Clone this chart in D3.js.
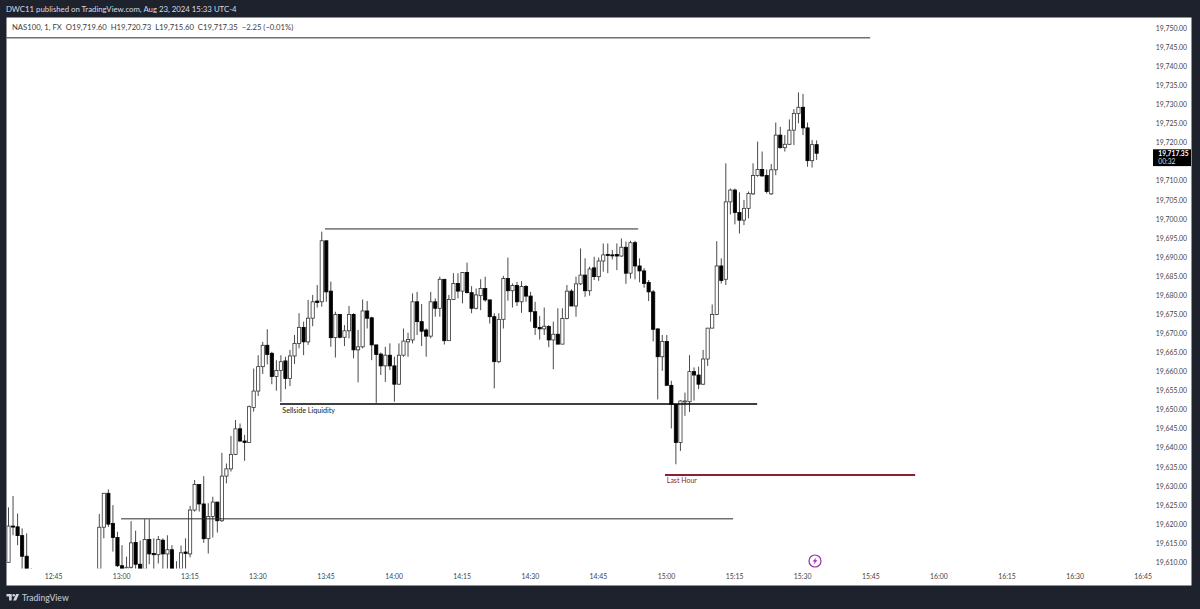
<!DOCTYPE html>
<html>
<head>
<meta charset="utf-8">
<script src="https://cdn.jsdelivr.net/npm/d3@7/dist/d3.min.js"></script>
<style>
html,body{margin:0;padding:0;background:#1e222d;overflow:hidden}
svg{display:block}
text{font-family:"Lato","Noto Sans",sans-serif}
</style>
</head>
<body>
<svg id="c" width="1200" height="609"></svg>
<script>
const firstBar = 755; // minutes after midnight of the first bar, 12:35
const opens = [19610.1,19619.6,19619.4,19617.1,19611.7,19607.0,
null,null,null,null,null,null,null,null,null,null,null,null,null,null,
19604.0,19619.3,19628.2,19620.3,19616.6,
19609.2,19607.5,19608.8,19615.3,19609.6,19606.0,19616.1,19612.4,19612.1,19615.9,
19612.3,19613.4,19604.0,19607.0,19612.8,19612.3,19623.8,19630.5,19625.4,19616.3,
19622.1,19625.9,19621.0,19632.7,19634.6,19638.4,19645.1,19641.9,19641.5,19650.7,
19655.0,19661.4,19667.0,19664.9,19658.8,19660.4,19662.9,19658.3,19664.2,19667.5,
19671.7,19667.9,19674.1,19678.6,19678.4,19694.4,19681.2,19669.0,19675.1,19669.1,
19670.8,19675.1,19665.8,19666.6,19676.0,19674.2,19667.1,19664.7,19661.6,19664.4,
19661.6,19656.8,19664.4,19667.9,19668.4,19678.4,19673.2,19671.0,19669.4,19678.4,
19676.7,19684.3,19668.2,19679.0,19683.2,19681.2,19686.1,19680.8,19676.7,19680.0,
19681.9,19678.9,19674.5,19662.7,19673.8,19684.5,19681.3,19682.7,19678.4,19682.4,
19679.9,19675.8,19671.7,19671.3,19671.9,19668.4,19669.9,19667.3,19674.0,19681.2,
19677.3,19683.1,19685.4,19681.3,19687.3,19685.0,19689.1,19690.8,19690.7,19690.8,
19690.4,19692.7,19685.9,19693.9,19687.8,19686.5,19683.5,19681.0,19671.3,19664.0,
19668.0,19656.5,19651.5,19641.5,19652.2,19652.2,19660.1,19659.2,19656.8,19663.4,
19671.5,19675.1,19687.8,19684.3,19704.6,19707.7,19701.8,19699.8,19702.9,19706.7,
19711.5,19713.1,19711.5,19706.7,19713.0,19722.1,19718.8,19719.7,19723.4,19727.8,
19729.4,19724.0,19715.4,19719.60];
const highs = [19624.5,19627.5,19622.9,19619.0,19617.7,19608.6,
null,null,null,null,null,null,null,null,null,null,null,null,null,null,
19622.8,19628.2,19629.2,19625.1,19618.1,
19614.6,19611.6,19620.9,19618.4,19615.8,19621.4,19621.4,19616.4,19617.0,19616.4,
19617.2,19614.6,19610.4,19614.5,19616.4,19624.9,19631.7,19630.5,19632.7,19625.6,
19627.3,19625.9,19638.8,19636.0,19643.2,19647.4,19646.5,19643.5,19651.2,19660.9,
19664.4,19667.9,19671.2,19665.3,19663.1,19664.4,19664.0,19665.8,19669.7,19675.4,
19673.2,19678.9,19680.2,19682.8,19696.8,19694.4,19683.7,19675.8,19675.1,19672.3,
19677.3,19675.4,19671.0,19679.0,19678.6,19674.5,19667.1,19665.1,19666.6,19667.5,
19664.0,19667.5,19671.4,19670.3,19680.6,19681.0,19677.8,19671.4,19681.0,19679.3,
19685.0,19684.3,19680.2,19685.9,19685.9,19686.1,19688.7,19682.5,19681.9,19684.3,
19685.0,19678.9,19675.4,19675.4,19685.2,19690.0,19683.2,19683.6,19683.8,19682.8,
19681.0,19678.4,19674.7,19676.9,19672.3,19673.2,19676.7,19676.7,19682.8,19681.7,
19685.0,19692.4,19689.8,19687.6,19690.2,19690.0,19693.7,19693.7,19692.0,19693.7,
19695.0,19694.2,19694.4,19694.4,19689.8,19687.2,19684.1,19681.5,19671.3,19669.7,
19669.7,19657.7,19651.5,19652.6,19654.6,19664.4,19661.2,19661.4,19665.8,19671.5,
19677.7,19694.3,19689.8,19714.7,19708.1,19708.1,19707.1,19705.1,19707.3,19714.7,
19720.4,19717.8,19713.1,19714.5,19725.4,19724.3,19722.1,19726.2,19728.9,19733.3,
19732.9,19725.4,19720.8,19720.73];
const lows = [19610.1,19617.2,19614.6,19606.0,19604.0,19603.0,
null,null,null,null,null,null,null,null,null,null,null,null,null,null,
19602.0,19616.4,19619.4,19612.9,19608.9,
19606.0,19606.0,19607.0,19606.0,19604.0,19604.0,19609.6,19607.0,19609.8,19607.0,
19607.0,19604.0,19603.0,19605.0,19607.0,19611.4,19623.4,19623.4,19615.2,19612.4,
19616.6,19617.9,19620.7,19630.8,19633.9,19638.2,19641.7,19636.7,19641.5,19649.6,
19653.7,19659.5,19662.0,19656.8,19655.1,19652.2,19655.5,19656.3,19662.1,19666.2,
19664.4,19667.1,19672.0,19676.9,19677.1,19678.4,19666.6,19663.8,19668.8,19666.8,
19668.8,19663.6,19657.3,19666.2,19671.4,19663.1,19651.9,19659.2,19657.4,19660.5,
19652.2,19656.6,19664.0,19664.0,19667.5,19669.7,19666.8,19664.0,19668.8,19674.5,
19674.5,19667.2,19668.2,19678.9,19679.3,19678.0,19680.6,19675.4,19676.4,19676.2,
19678.4,19672.7,19655.7,19662.3,19671.4,19678.7,19676.9,19677.3,19675.5,19678.4,
19673.2,19669.7,19668.5,19669.7,19666.5,19660.7,19667.3,19667.3,19673.8,19677.3,
19674.5,19682.8,19679.7,19680.0,19684.1,19683.9,19686.3,19685.9,19689.5,19686.7,
19690.2,19683.1,19684.5,19684.3,19683.5,19682.1,19678.6,19668.0,19652.8,19660.3,
19656.5,19645.2,19635.8,19639.3,19648.5,19649.5,19652.5,19655.5,19656.6,19661.6,
19671.5,19674.9,19683.2,19682.8,19701.3,19698.7,19696.3,19698.5,19700.3,19706.4,
19711.2,19711.2,19706.8,19706.4,19711.6,19718.6,19717.8,19719.5,19719.5,19725.2,
19722.1,19713.8,19713.6,19715.60];
const closes = [19619.6,19619.4,19617.1,19611.7,19606.0,19605.0,
null,null,null,null,null,null,null,null,null,null,null,null,null,null,
19619.3,19628.2,19620.1,19616.6,19609.2,
19607.5,19608.8,19615.2,19609.6,19606.0,19616.1,19612.3,19612.1,19616.1,19612.3,
19613.4,19606.0,19606.5,19612.6,19612.4,19623.8,19630.5,19625.4,19616.3,19622.1,
19625.9,19621.0,19632.7,19634.6,19638.4,19645.1,19641.9,19641.5,19650.9,19655.0,
19661.4,19667.0,19664.6,19658.8,19660.4,19662.7,19658.3,19664.2,19667.5,19671.7,
19667.9,19674.1,19678.4,19678.2,19694.4,19681.0,19669.0,19675.1,19669.1,19670.8,
19675.1,19665.8,19666.6,19676.0,19674.1,19667.1,19664.6,19661.6,19664.4,19661.6,
19656.8,19664.4,19668.1,19668.5,19678.4,19673.2,19670.7,19669.4,19678.4,19676.7,
19684.3,19668.2,19679.0,19683.2,19681.2,19686.1,19680.8,19676.7,19680.2,19681.9,
19678.9,19674.5,19662.7,19673.8,19684.5,19681.3,19682.7,19678.4,19682.4,19679.9,
19675.8,19671.7,19671.3,19672.0,19668.4,19669.9,19667.3,19674.0,19681.2,19677.3,
19683.1,19685.4,19681.3,19687.0,19685.0,19689.1,19690.7,19690.6,19690.5,19690.4,
19692.7,19685.9,19693.9,19687.8,19686.5,19683.2,19681.0,19671.2,19664.0,19668.0,
19656.5,19651.5,19641.5,19652.4,19652.4,19660.1,19659.2,19656.8,19663.4,19671.5,
19675.1,19687.8,19684.0,19704.6,19707.7,19701.8,19699.8,19702.9,19706.8,19711.5,
19713.1,19711.4,19707.3,19713.0,19722.1,19718.8,19719.7,19723.4,19727.8,19729.4,
19724.0,19715.4,19719.6,19717.35];

const priceTicks = [19750,19745,19740,19735,19730,19725,19720,19710,19705,19700,19695,19690,19685,19680,19675,19670,19665,19660,19655,19650,19645,19640,19635,19630,19625,19620,19615,19610];
const timeTicks = [765,780,795,810,825,840,855,870,885,900,915,930,945,960,975,990,1005];
const timeLabels = ["12:45","13:00","13:15","13:30","13:45","14:00","14:15","14:30","14:45","15:00","15:15","15:30","15:45","16:00","16:15","16:30","16:45"];

// drawn horizontal levels: price, start minute, end minute
const levelPrices = [19747.6,19697.5,19651.6,19633.0,19621.5];
const levelStarts = [750,824.7,814.8,899.6,779.8];
const levelEnds   = [944.8,893.7,919.9,954.7,914.6];
const levelColors = ["#2a2a2a","#2a2a2a","#000000","#8e1f33","#2a2a2a"];
const levelWidths = [1,1,1.5,2,1];

const title = "DWC11 published on TradingView.com, Aug 23, 2024 15:33 UTC-4";
const legend = "NAS100, 1, FX  O19,719.60  H19,720.73  L19,715.60  C19,717.35  \u22122.25 (\u22120.01%)";
const lastPrice = "19,717.35";
const countdown = "00:32";

const svg = d3.select("#c");
const x = d3.scaleLinear().domain([780,1020]).range([122,1211.6]);
const y = d3.scaleLinear().domain([19750,19610]).range([28.7,562.7]);

svg.append("rect").attr("x",0).attr("y",0).attr("width",1200).attr("height",609).attr("fill","#1e222d");
svg.append("rect").attr("x",6.5).attr("y",17.5).attr("width",1185).attr("height",568).attr("fill","#ffffff");

svg.append("defs").append("clipPath").attr("id","plot")
  .append("rect").attr("x",6.5).attr("y",18).attr("width",1145).attr("height",550.5);

const bars = d3.range(opens.length).filter(i => opens[i] !== null).map(i => ({
  t:firstBar+i, o:opens[i], h:highs[i], l:lows[i], c:closes[i]
}));

const g = svg.append("g").attr("clip-path","url(#plot)");
g.selectAll("line.wick").data(bars).join("line").attr("class","wick")
  .attr("x1",d=>x(d.t)).attr("x2",d=>x(d.t))
  .attr("y1",d=>y(d.h)).attr("y2",d=>y(d.l))
  .attr("stroke","#4a4a4a").attr("stroke-width",1);
g.selectAll("rect.body").data(bars).join("rect").attr("class","body")
  .attr("x",d=>x(d.t)-1.6).attr("width",3.2)
  .attr("y",d=>y(Math.max(d.o,d.c)))
  .attr("height",d=>Math.max(1,Math.abs(y(d.o)-y(d.c))))
  .attr("fill",d=>d.c>=d.o?"#ffffff":"#000000")
  .attr("stroke",d=>d.c>=d.o?"#333333":"#000000").attr("stroke-width",0.8);

// levels
svg.append("g").selectAll("line").data(levelPrices).join("line")
  .attr("x1",(d,i)=>Math.max(6.5,x(levelStarts[i])))
  .attr("x2",(d,i)=>x(levelEnds[i]))
  .attr("y1",d=>y(d)).attr("y2",d=>y(d))
  .attr("stroke",(d,i)=>levelColors[i]).attr("stroke-width",(d,i)=>levelWidths[i]);

svg.append("text").attr("x",x(815.3)).attr("y",y(19651.6)+8.5)
  .attr("font-size",7.2).attr("fill","#222").text("Sellside Liquidity");
svg.append("text").attr("x",x(900)).attr("y",y(19633.0)+8.5)
  .attr("font-size",7).attr("fill","#8e1f33").text("Last Hour");

// axes
const yAxis = d3.axisRight(y).tickValues(priceTicks).tickSize(0).tickPadding(0)
  .tickFormat(d=>d3.format(",.2f")(d));
const yg = svg.append("g").attr("transform","translate(1187,-0.5)").call(yAxis);
yg.select(".domain").remove();
yg.selectAll("text").attr("text-anchor","end").attr("font-size",6.9).attr("fill","#444");

const xAxis = d3.axisBottom(x).tickValues(timeTicks).tickSize(0).tickPadding(0)
  .tickFormat((d,i)=>timeLabels[i]);
const xg = svg.append("g").attr("transform","translate(-0.8,574)").call(xAxis);
xg.select(".domain").remove();
xg.selectAll("text").attr("font-size",6.9).attr("fill","#444");

// last price tag
svg.append("rect").attr("x",1153).attr("y",149.3).attr("width",38).attr("height",16.8).attr("fill","#000");
svg.append("text").attr("x",1158.3).attr("y",156.2).attr("font-size",6.7).attr("font-weight",700).attr("fill","#fff").text(lastPrice);
svg.append("text").attr("x",1158.3).attr("y",164).attr("font-size",6.7).attr("fill","#ddd").text(countdown);

// header texts
svg.append("text").attr("x",6).attr("y",11.5).attr("font-size",7.8).attr("fill","#d8dae0").text(title);
svg.append("text").attr("x",12).attr("y",30).attr("font-size",7.7).attr("fill","#3c3c3c").attr("xml:space","preserve").text(legend);

// lightning badge
const b = svg.append("g").attr("transform","translate(815,561)");
b.append("circle").attr("r",6).attr("fill","#fff").attr("stroke","#9c27b0").attr("stroke-width",1.2);
b.append("path").attr("d","M1.6,-3.8 L-2.4,0.6 L-0.2,0.6 L-1.6,3.8 L2.4,-0.8 L0.2,-0.8 Z").attr("fill","#9c27b0");

// footer logo
const l = svg.append("g").attr("transform","translate(6.5,594)").attr("fill","#d1d4dc");
l.append("path").attr("d","M0,0 H5.2 V6.4 H2.6 V2.6 H0 Z");
l.append("circle").attr("cx",7.2).attr("cy",1.3).attr("r",1.3);
l.append("path").attr("d","M9.6,0 H12.6 L9.6,6.4 H6.6 Z");
svg.append("text").attr("x",22).attr("y",601).attr("font-size",8.6).attr("font-weight",500).attr("fill","#c4c7cf").text("TradingView");
</script>
</body>
</html>
